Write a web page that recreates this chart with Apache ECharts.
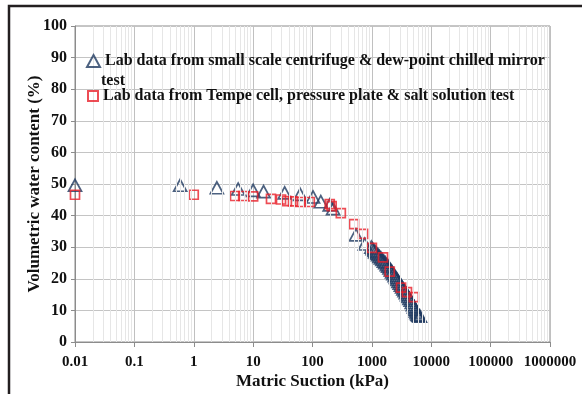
<!DOCTYPE html>
<html>
<head>
<meta charset="utf-8">
<script src="https://cdn.jsdelivr.net/npm/echarts@6/dist/echarts.min.js"></script>
<style>
  html, body { margin: 0; padding: 0; background: #fff; }
  #chart { width: 582px; height: 394px; }
</style>
</head>
<body>
<div id="chart"></div>
<script>
// 吸力-含水量曲线 (log x)
var seriesNames = [
    'Lab data from small scale centrifuge & dew-point chilled mirror',
    'Lab data from Tempe cell, pressure plate & salt solution test'
];
var legendWrap = 'test';

// [matric suction kPa, volumetric water content %]
var centrifugeData = [
    [0.01, 49.6], [0.59, 49.6], [2.45, 48.8], [5.6, 48.4], [10, 48.0], [15, 47.6],
    [34, 47.2], [62, 46.7], [102, 45.9], [138, 44.4], [195, 43.4], [222, 42.2],
    [540, 33.9], [760, 31.0],
    [980, 30.0], [1030, 29.5], [1080, 29.0], [1140, 28.5], [1200, 28.1], [1270, 27.6],
    [1340, 27.1], [1420, 26.6], [1500, 26.1], [1590, 25.6], [1680, 25.1], [1780, 24.5],
    [1880, 24.0], [1980, 23.4], [2080, 22.8], [2190, 22.2], [2300, 21.6], [2420, 21.0],
    [2540, 20.4], [2670, 19.8], [2800, 19.2], [2940, 18.6], [3080, 18.0], [3230, 17.4],
    [3390, 16.8], [3550, 16.2], [3720, 15.6], [3900, 15.0], [4090, 14.4], [4290, 13.8],
    [4500, 13.2], [4700, 12.5], [4900, 11.8], [5100, 11.1], [5300, 10.4], [5480, 9.8],
    [5650, 9.3], [5850, 8.8], [6050, 8.5], [6250, 8.3], [6450, 8.2]
];

var tempeData = [
    [0.01, 46.6], [1.0, 46.6], [4.95, 46.2], [6.8, 46.2], [10, 46.1], [20, 45.3],
    [29.5, 45.1], [37, 44.6], [47, 44.5], [62, 44.3], [90, 44.3], [195, 43.6],
    [210, 43.0], [300, 40.8], [500, 37.3], [710, 34.2], [1000, 29.8], [1540, 26.8],
    [2000, 22.3], [3100, 17.2], [3900, 15.8], [5100, 14.2]
];

var xDecades = [0.01, 0.1, 1, 10, 100, 1000, 10000, 100000, 1000000];
var yTicks = [0, 10, 20, 30, 40, 50, 60, 70, 80, 90, 100];

// 次网格线
var minorLines = [];
for (var i = 0; i < xDecades.length - 1; i++) {
    for (var k = 2; k <= 9; k++) {
        minorLines.push({ xAxis: xDecades[i] * k });
    }
}

var font = '"Liberation Serif", "Times New Roman", serif';
var legendText = { fontFamily: font, fontWeight: 'bold', fontSize: 16, color: '#111' };
var myChart = echarts.init(document.getElementById('chart'));

myChart.setOption({
    backgroundColor: '#ffffff',
    animation: false,
    graphic: [{
        type: 'rect',
        shape: { x: 9, y: 6, width: 620, height: 420 },
        style: { fill: 'none', stroke: '#231f20', lineWidth: 2.5 },
        z: 100
    }, {
        type: 'text',
        left: 101, top: 73,
        z: 100,
        style: { text: legendWrap, font: 'bold 16px ' + font, fill: '#111' }
    }],
    grid: {
        left: 75, right: 32, top: 26, bottom: 52,
        outerBoundsMode: 'none',
        show: true, borderColor: '#8c8c8c', borderWidth: 1
    },
    legend: [{
        left: 86, top: 53, z: 50, padding: 0,
        itemWidth: 13, itemHeight: 12,
        itemGap: 4,
        data: [seriesNames[0]],
        textStyle: legendText
    }, {
        left: 87, top: 88, z: 50, padding: 0,
        itemWidth: 10, itemHeight: 10,
        itemGap: 4,
        data: [seriesNames[1]],
        textStyle: legendText
    }],
    xAxis: {
        type: 'log',
        logBase: 10,
        min: 0.01,
        max: 1000000,
        name: 'Matric Suction (kPa)',
        nameLocation: 'middle',
        nameGap: 31,
        nameMoveOverlap: false,
        nameTextStyle: { fontFamily: font, fontWeight: 'bold', fontSize: 17, color: '#111' },
        axisLine: { lineStyle: { color: '#8c8c8c' } },
        axisTick: { show: true, length: 5, lineStyle: { color: '#8c8c8c' } },
        axisLabel: {
            fontFamily: font, fontWeight: 'bold', fontSize: 15, color: '#111', margin: 13,
            formatter: function (v) {
                var r = Math.round(v * 100) / 100;
                return String(r);
            }
        },
        splitLine: { show: true, lineStyle: { color: '#c0c0c0', width: 1 } }
    },
    yAxis: {
        type: 'value',
        min: 0, max: 100, interval: 10,
        name: 'Volumetric water content (%)',
        nameLocation: 'middle',
        nameGap: 32,
        nameMoveOverlap: false,
        nameTextStyle: { fontFamily: font, fontWeight: 'bold', fontSize: 17, color: '#111' },
        axisLine: { show: true, lineStyle: { color: '#8c8c8c' } },
        axisTick: { show: true, length: 4, lineStyle: { color: '#8c8c8c' } },
        axisLabel: { fontFamily: font, fontWeight: 'bold', fontSize: 16, color: '#111', margin: 8 },
        splitLine: { show: true, lineStyle: { color: '#c4c4c4', width: 1 } }
    },
    series: [
        {
            name: 'minor',
            type: 'line',
            data: [],
            silent: true,
            z: 1,
            markLine: {
                silent: true,
                symbol: 'none',
                label: { show: false },
                lineStyle: { color: '#e6e6e6', width: 1, type: 'solid' },
                data: minorLines,
                animation: false
            }
        },
        {
            name: seriesNames[0],
            type: 'scatter',
            symbol: 'triangle',
            symbolSize: [13, 12],
            data: centrifugeData,
            z: 3,
            itemStyle: { color: 'rgba(255,255,255,0)', borderColor: '#1f3a60', borderWidth: 1.7 }
        },
        {
            name: seriesNames[1],
            type: 'scatter',
            symbol: 'rect',
            symbolSize: 9,
            data: tempeData,
            z: 4,
            itemStyle: { color: 'rgba(255,255,255,0)', borderColor: '#e8202a', borderWidth: 1.7 }
        }
    ]
});
</script>
</body>
</html>
